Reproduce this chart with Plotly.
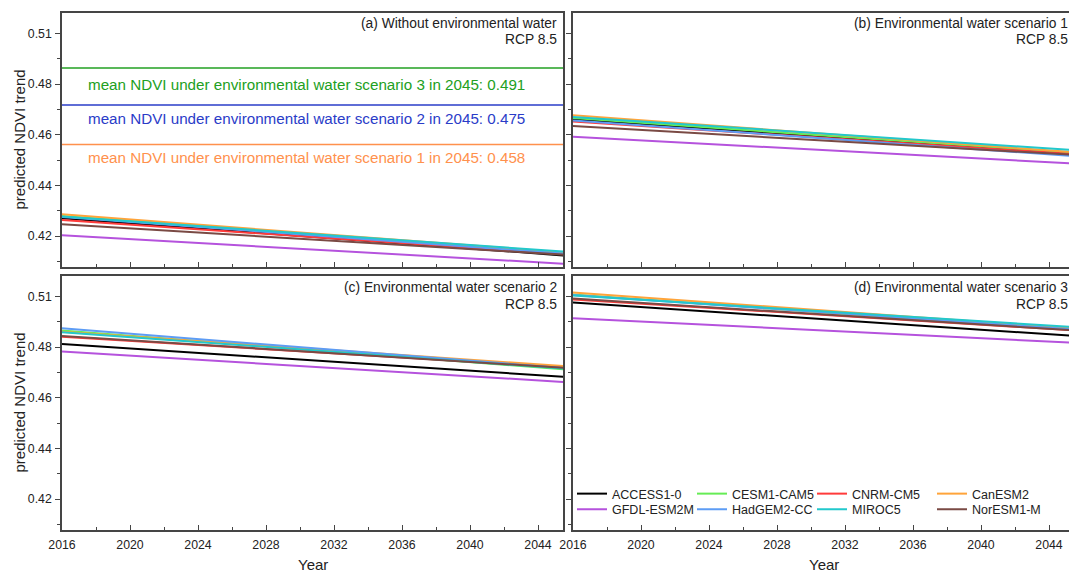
import plotly.graph_objects as go

W, H = 1069, 572

# ---- data -------------------------------------------------------------
years = [2016, 2046]

models = ["ACCESS1-0", "CESM1-CAM5", "CNRM-CM5", "CanESM2",
          "GFDL-ESM2M", "HadGEM2-CC", "MIROC5", "NorESM1-M"]
colors = ["#000000", "#66ec55", "#ff3b3b", "#ffa43a",
          "#b552dd", "#5d9cf5", "#22c8cc", "#7a4a44"]

# predicted NDVI trend at the first / last year, one value per model
ndvi_a_start = [0.4262, 0.4272, 0.4255, 0.4279, 0.4189, 0.4268, 0.4270, 0.4236]
ndvi_a_end   = [0.4099, 0.4110, 0.4105, 0.4112, 0.4064, 0.4107, 0.4116, 0.4103]
ndvi_b_start = [0.4689, 0.4694, 0.4679, 0.4706, 0.4614, 0.4684, 0.4699, 0.4660]
ndvi_b_end   = [0.4535, 0.4541, 0.4536, 0.4544, 0.4496, 0.4527, 0.4553, 0.4533]
ndvi_c_start = [0.4854, 0.4912, 0.4885, 0.4907, 0.4821, 0.4922, 0.4905, 0.4888]
ndvi_c_end   = [0.4710, 0.4742, 0.4752, 0.4756, 0.4688, 0.4747, 0.4745, 0.4749]
ndvi_d_start = [0.5033, 0.5067, 0.5046, 0.5076, 0.4965, 0.5065, 0.5063, 0.5050]
ndvi_d_end   = [0.4886, 0.4912, 0.4910, 0.4918, 0.4857, 0.4914, 0.4924, 0.4910]

# mean NDVI in 2045 under each environmental water scenario
scenario_means = [0.458, 0.475, 0.491]
scenario_text = ["mean NDVI under environmental water scenario 1 in 2045: 0.458",
                 "mean NDVI under environmental water scenario 2 in 2045: 0.475",
                 "mean NDVI under environmental water scenario 3 in 2045: 0.491"]
scenario_colors = ["#ff914d", "#2a3cc8", "#22a022"]

panel_titles = ["(a) Without environmental water",
                "(b) Environmental water scenario 1",
                "(c) Environmental water scenario 2",
                "(d) Environmental water scenario 3"]
rcp_label = "RCP 8.5"
x_title = "Year"
y_title = "predicted NDVI trend"

# ---- layout helpers ---------------------------------------------------
FONT = "Liberation Sans, Arial, sans-serif"
INK = "#222222"
FRAME = "#454545"


def px(x):
    return x / W


def py(y):
    return 1 - y / H


PX_PER_YEAR = 17.0
panels = [
    # (x-axis id, y-axis id, left px, right px, top px, bottom px)
    ("x", "y", 62, 563, 13, 267),
    ("x2", "y2", 573, 1069, 13, 267),
    ("x3", "y3", 62, 563, 276, 530),
    ("x4", "y4", 573, 1069, 276, 530),
]
series = [(ndvi_a_start, ndvi_a_end), (ndvi_b_start, ndvi_b_end),
          (ndvi_c_start, ndvi_c_end), (ndvi_d_start, ndvi_d_end)]

fig = go.Figure()

for p, ((xa, ya, *_), (starts, ends)) in enumerate(zip(panels, series)):
    for i, m in enumerate(models):
        if p == 3:
            legend = "legend" if i < 4 else "legend2"
            show = True
        else:
            legend = "legend"
            show = False
        fig.add_trace(go.Scatter(
            x=years, y=[starts[i], ends[i]], mode="lines", name=m,
            line=dict(color=colors[i], width=2),
            xaxis=xa, yaxis=ya, showlegend=show, legend=legend,
            legendgroup=m, hoverinfo="skip"))

Y_RANGE = [0.4052, 0.5147]
Y_TICK0 = 0.4185
Y_DTICK = 0.02185

layout = dict(
    template="none",
    width=W, height=H,
    margin=dict(l=0, r=0, t=0, b=0, pad=0, autoexpand=False),
    paper_bgcolor="white", plot_bgcolor="white",
    font=dict(family=FONT, color=INK, size=12),
    showlegend=True,
)

for k, (xa, ya, l, r, t, b) in enumerate(panels):
    xkey = "xaxis" if xa == "x" else "xaxis" + xa[1:]
    ykey = "yaxis" if ya == "y" else "yaxis" + ya[1:]
    bottom_row = k >= 2
    left_col = k % 2 == 0
    layout[xkey] = dict(
        domain=[px(l), px(r)], anchor=ya, automargin=False,
        range=[2016, 2016 + (r - l) / PX_PER_YEAR],
        tickmode="linear", tick0=2016, dtick=4,
        ticks="inside", ticklen=5, tickwidth=1.3, tickcolor=FRAME,
        minor=dict(tick0=2016, dtick=2, ticks="inside", ticklen=3,
                   tickwidth=1.3, tickcolor=FRAME),
        showticklabels=bottom_row, tickfont=dict(size=12.3, color=INK),
        ticklabelstandoff=2,
        showline=True, linecolor=FRAME, linewidth=1.6, mirror=True,
        showgrid=False, zeroline=False, fixedrange=True,
    )
    layout[ykey] = dict(
        domain=[py(b), py(t)], anchor=xa, automargin=False,
        range=Y_RANGE,
        tickmode="linear", tick0=Y_TICK0, dtick=Y_DTICK, tickformat=".2f",
        ticks="outside", ticklen=5, tickwidth=1.3, tickcolor=FRAME,
        minor=dict(tick0=Y_TICK0, dtick=Y_DTICK / 2, ticks="outside",
                   ticklen=3, tickwidth=1.3, tickcolor=FRAME),
        showticklabels=left_col, tickfont=dict(size=12.3, color=INK),
        ticklabelstandoff=1,
        showline=True, linecolor=FRAME, linewidth=1.6, mirror=left_col,
        showgrid=False, zeroline=False, fixedrange=True,
    )

legend_common = dict(
    orientation="h", xanchor="left", yanchor="middle",
    bgcolor="rgba(0,0,0,0)", borderwidth=0,
    font=dict(size=12.5, color=INK, family=FONT),
    itemwidth=30, entrywidthmode="pixels", entrywidth=75,
    traceorder="normal", itemclick=False, itemdoubleclick=False,
)
layout["legend"] = dict(legend_common, x=px(572), y=py(494))
layout["legend2"] = dict(legend_common, x=px(572), y=py(509.5))

fig.update_layout(**layout)

# mean NDVI reference lines in panel (a)
text_centres = [157.5, 118.5, 84.5]
for val, txt, col, yc in zip(scenario_means, scenario_text, scenario_colors, text_centres):
    fig.add_shape(type="line", xref="x domain", yref="y", x0=0, x1=1,
                  y0=val, y1=val, line=dict(color=col, width=1.5))
    fig.add_annotation(text=txt, xref="paper", yref="paper", x=px(86), y=py(yc),
                       xanchor="left", yanchor="middle", showarrow=False,
                       font=dict(size=15.2, color=col, family=FONT))

# panel titles (right aligned inside each frame)
title_anchor = [(559, 23.5), (1070, 23.5), (559, 287.5), (1070, 287.5)]
for title, (xr, yt) in zip(panel_titles, title_anchor):
    fig.add_annotation(text=title, xref="paper", yref="paper", x=px(xr), y=py(yt),
                       xanchor="right", yanchor="middle", showarrow=False,
                       font=dict(size=13.8, color=INK, family=FONT))
    fig.add_annotation(text=rcp_label, xref="paper", yref="paper", x=px(xr), y=py(yt + 16.5),
                       xanchor="right", yanchor="middle", showarrow=False,
                       font=dict(size=13.8, color=INK, family=FONT))

# axis titles
for xc in (312.5, 823.5):
    fig.add_annotation(text=x_title, xref="paper", yref="paper", x=px(xc), y=py(564),
                       xanchor="center", yanchor="middle", showarrow=False,
                       font=dict(size=15, color=INK, family=FONT))
for yc in (140, 403):
    fig.add_annotation(text=y_title, xref="paper", yref="paper", x=px(18.5), y=py(yc),
                       xanchor="center", yanchor="middle", textangle=-90, showarrow=False,
                       font=dict(size=15, color=INK, family=FONT))

fig.write_html("out.html", config={"displayModeBar": False})
